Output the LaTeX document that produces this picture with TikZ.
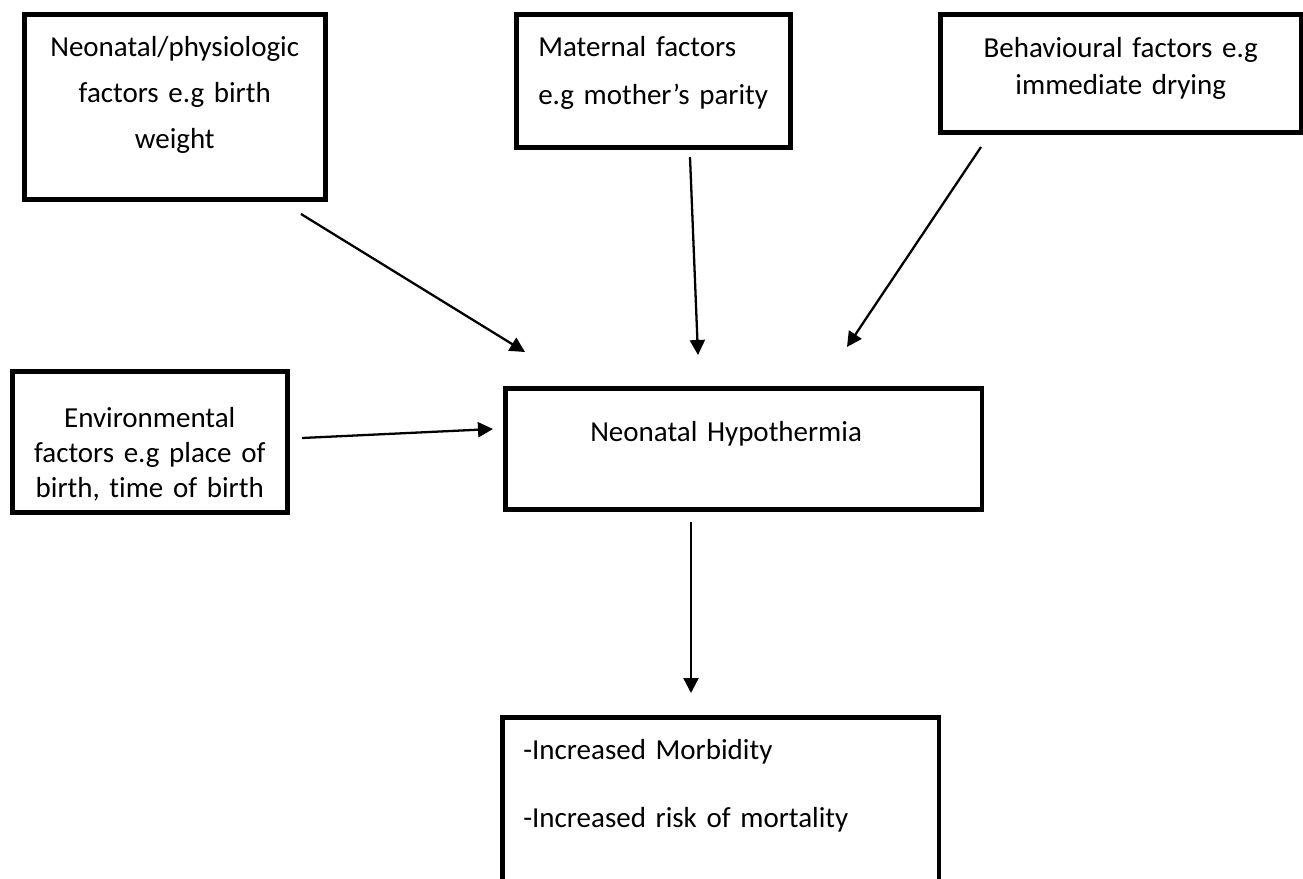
\documentclass[tikz,border=0pt]{standalone}
\usepackage{fontspec}
\setmainfont{Carlito}[Ligatures=NoCommon]
\usetikzlibrary{arrows.meta, positioning}

\tikzset{
    factor/.style={draw, line width=2.6pt, inner ysep=0pt, inner xsep=0pt, anchor=north west},
    link/.style={-{Triangle[length=0.3cm, width=0.3cm]}, line width=1.3pt},
}

\begin{document}
\begin{tikzpicture}[x=0.02cm, y=-0.02cm]
    \useasboundingbox (0,0) rectangle (1303,879);

    % Draw the factor boxes
    \node[factor, align=center, text width=6.02cm, text height=0.84cm, text depth=2.86cm,
          font=\fontsize{16.5}{26.2}\selectfont] (physio) at (22,12)
          {Neonatal/physiologic\\factors e.g birth\\weight};
    \node[factor, align=left, inner xsep=0.44cm, text width=4.6cm, text height=0.84cm, text depth=1.82cm,
          font=\fontsize{16.5}{27.3}\selectfont] (maternal) at (514,12)
          {Maternal factors\\e.g mother’s parity};
    \node[factor, align=center, text width=7.22cm, text height=0.86cm, text depth=1.5cm,
          font=\fontsize{16.5}{21}\selectfont] (behaviour) at (938,12)
          {Behavioural factors e.g\\immediate drying};
    \node[factor, align=center, text width=5.5cm, text height=1.12cm, text depth=1.7cm,
          font=\fontsize{16.5}{19.9}\selectfont] (environ) at (10,369)
          {Environmental\\factors e.g place of\\birth, time of birth};

    % Draw the central box and the outcome box
    \node[factor, align=left, inner xsep=1.7cm, text width=6.14cm, text height=1.06cm, text depth=1.36cm,
          font=\fontsize{16.5}{20}\selectfont] (hypo) at (503,386)
          {Neonatal Hypothermia};
    \node[factor, align=left, inner xsep=0.42cm, text width=7.9cm, text height=0.84cm, text depth=2.76cm,
          font=\fontsize{16.5}{38.7}\selectfont] (outcome) at (500,715)
          {-Increased Morbidity\\-Increased risk of mortality};

    % Arrow end points
    \coordinate (physio-out) at (301,214);
    \coordinate (physio-in) at (525,352);
    \coordinate (maternal-out) at (690,157);
    \coordinate (maternal-in) at (698,355);
    \coordinate (behaviour-out) at (981,147);
    \coordinate (behaviour-in) at (847,347);
    \coordinate (environ-out) at (302,438);
    \coordinate (environ-in) at (493,429);
    \coordinate (hypo-out) at (691,522);
    \coordinate (outcome-in) at (691,693);

    % Draw the arrows
    \draw[link] (physio-out) -- (physio-in);
    \draw[link] (maternal-out) -- (maternal-in);
    \draw[link] (behaviour-out) -- (behaviour-in);
    \draw[link] (environ-out) -- (environ-in);
    \draw[link] (hypo-out) -- (outcome-in);

\end{tikzpicture}
\end{document}
